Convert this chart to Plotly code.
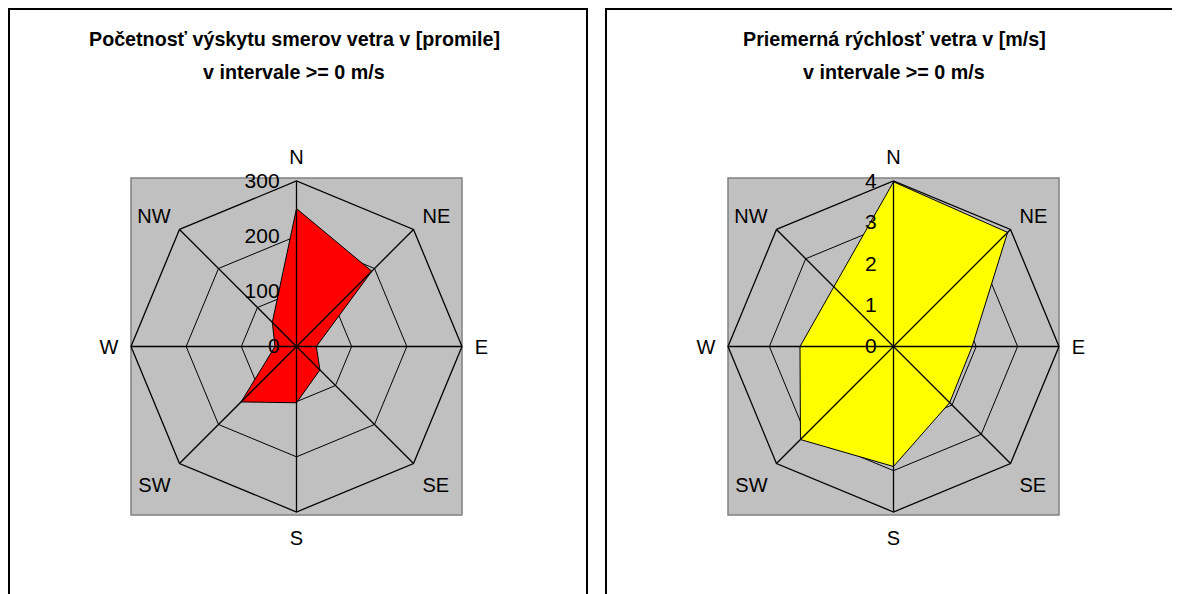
import plotly.graph_objects as go

# ---- data ----
directions = ["N", "NE", "E", "SE", "S", "SW", "W", "NW"]
frequency_promile = [250, 193, 36, 60, 102, 142, 39, 62]
mean_speed_ms = [3.98, 3.9, 1.9, 1.92, 2.9, 3.18, 2.26, 2.04]
freq_ticks = [0, 100, 200, 300]
speed_ticks = [0, 1, 2, 3, 4]

title_left = ["Početnosť výskytu smerov vetra v [promile]", "v intervale >= 0 m/s"]
title_right = ["Priemerná rýchlosť vetra v [m/s]", "v intervale >= 0 m/s"]

# page has an 8px body margin; figure covers the rest of the 1180x594 window
OFF = 8
W, H = 1180 - OFF, 594 - OFF
FONT = "Liberation Sans, Arial, sans-serif"
GRID_W = 1.3


def px(x):
    return (x - OFF) / W


def py(y):
    return 1 - (y - OFF) / H


fig = go.Figure()


def add_rose(values, ticks, color, subplot):
    fig.add_trace(go.Scatterpolar(
        r=values + values[:1],
        theta=directions + directions[:1],
        mode="lines", fill="toself", fillcolor=color,
        line=dict(color="black", width=1),
        subplot=subplot, showlegend=False, hoverinfo="r+theta",
    ))
    # direction spokes are drawn over the filled area (as in the original chart)
    for d in directions:
        fig.add_trace(go.Scatterpolar(
            r=[ticks[0], ticks[-1]], theta=[d, d],
            mode="lines", line=dict(color="black", width=GRID_W),
            subplot=subplot, showlegend=False, hoverinfo="skip",
        ))


add_rose(frequency_promile, freq_ticks, "#FF0000", "polar")
add_rose(mean_speed_ms, speed_ticks, "#FFFF00", "polar2")


def polar_cfg(x0, x1, ticks):
    return dict(
        domain=dict(x=[px(x0), px(x1)], y=[py(515), py(178)]),
        bgcolor="rgba(0,0,0,0)",
        gridshape="linear",
        angularaxis=dict(
            categoryorder="array", categoryarray=directions,
            direction="clockwise", rotation=90,
            showline=True, linecolor="black", linewidth=GRID_W,
            gridcolor="black", gridwidth=GRID_W,
            ticks="outside", ticklen=8, tickcolor="rgba(0,0,0,0)",
            tickfont=dict(family=FONT, size=20, color="black"),
        ),
        radialaxis=dict(
            range=[ticks[0], ticks[-1]], tickvals=ticks,
            angle=90, side="counterclockwise", tickangle=90,
            showline=False,
            gridcolor="black", gridwidth=GRID_W,
            ticks="outside", ticklen=9, tickcolor="rgba(0,0,0,0)",
            tickfont=dict(family=FONT, size=21, color="black"),
        ),
    )


fig.update_layout(
    width=W, height=H,
    margin=dict(l=0, r=0, t=0, b=0),
    paper_bgcolor="white",
    font=dict(family=FONT, color="black"),
    polar=polar_cfg(131, 462, freq_ticks),
    polar2=polar_cfg(728, 1059, speed_ticks),
)

shapes = []
# panel borders
shapes.append(dict(type="rect", xref="paper", yref="paper",
                   x0=px(9), x1=px(587), y0=py(9), y1=-0.2,
                   line=dict(color="black", width=2), layer="below"))
shapes.append(dict(type="rect", xref="paper", yref="paper",
                   x0=px(606), x1=1.2, y0=py(9), y1=-0.2,
                   line=dict(color="black", width=2), layer="below"))
# gray plot areas
for x0, x1 in [(131, 462), (728, 1059)]:
    shapes.append(dict(type="rect", xref="paper", yref="paper",
                       x0=px(x0), x1=px(x1), y0=py(178), y1=py(515),
                       fillcolor="#C0C0C0", line=dict(color="#808080", width=1.5),
                       layer="below"))
fig.update_layout(shapes=shapes)

annotations = []
for cx, lines in [(294, title_left), (894, title_right)]:
    for i, t in enumerate(lines):
        annotations.append(dict(
            text="<b>%s</b>" % t, x=px(cx), y=py(39 + 33 * i),
            xref="paper", yref="paper", showarrow=False,
            xanchor="center", yanchor="middle",
            font=dict(family=FONT, size=19.7, color="black"),
        ))
fig.update_layout(annotations=annotations)

fig.write_html("out.html")
